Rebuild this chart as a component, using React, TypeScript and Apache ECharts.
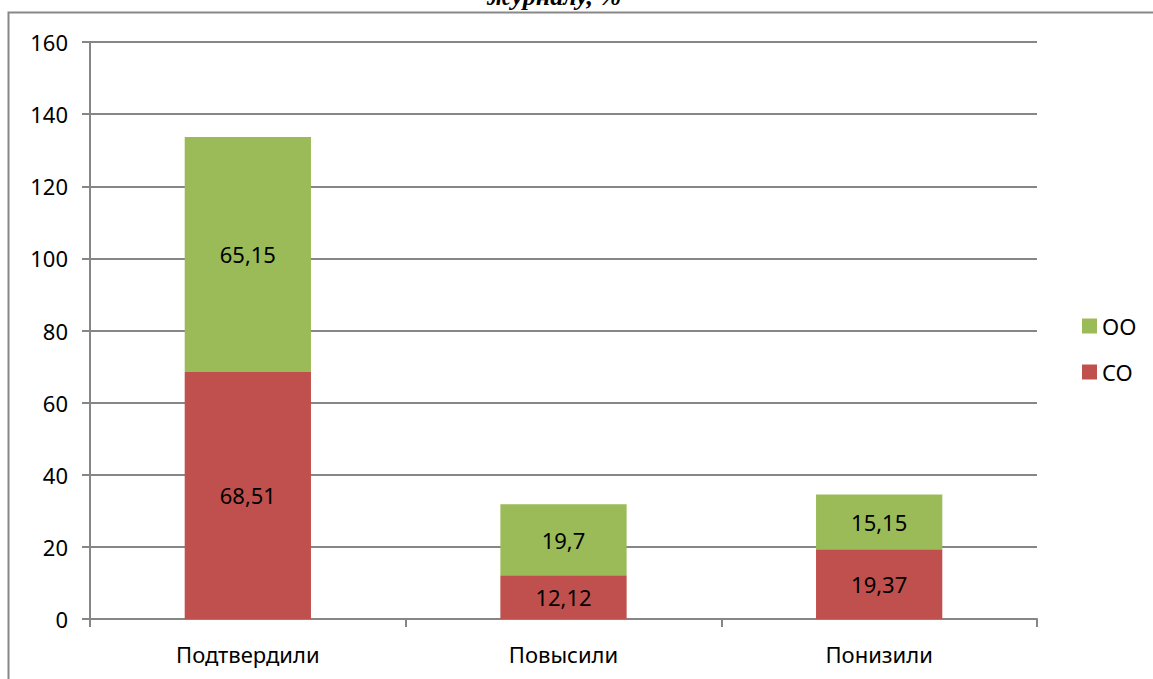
import React, { useEffect, useRef } from "react";
import * as echarts from "echarts";

const categories = ["Подтвердили", "Повысили", "Понизили"];
const seriesCO = [68.51, 12.12, 19.37];
const seriesOO = [65.15, 19.7, 15.15];
const labelsCO = ["68,51", "12,12", "19,37"];
const labelsOO = ["65,15", "19,7", "15,15"];
const titleText = "журналу, %";

const FONT = "'Noto Sans', 'Open Sans', sans-serif";

export default function App() {
  const ref = useRef<HTMLDivElement>(null);
  useEffect(() => {
    if (!ref.current) return;
    const chart = echarts.init(ref.current, null, { renderer: "svg" });
    const axisColor = "#868686";
    chart.setOption({
      animation: false,
      backgroundColor: "#ffffff",
      textStyle: { fontFamily: FONT },
      grid: { left: 90, right: 116, top: 42, bottom: 60, containLabel: false },
      legend: {
        orient: "vertical",
        left: 1077,
        top: 310,
        itemWidth: 15,
        itemHeight: 15,
        itemGap: 24,
        icon: "rect",
        data: ["OO", "CO"],
        textStyle: { fontSize: 22, color: "#000", fontFamily: FONT, padding: [0, 0, 0, 0] },
      },
      xAxis: {
        type: "category",
        data: categories,
        axisLine: { lineStyle: { color: axisColor, width: 2 } },
        axisTick: { show: true, length: 8, lineStyle: { color: axisColor, width: 2 } },
        axisLabel: { color: "#000", fontSize: 22, margin: 24, fontFamily: FONT },
      },
      yAxis: {
        type: "value",
        min: 0,
        max: 160,
        interval: 20,
        axisLine: { show: true, lineStyle: { color: axisColor, width: 2 } },
        axisTick: { show: true, length: 8, lineStyle: { color: axisColor, width: 2 } },
        splitLine: { lineStyle: { color: axisColor, width: 2 } },
        axisLabel: { color: "#000", fontSize: 22, margin: 22, fontFamily: FONT },
      },
      series: [
        {
          name: "CO",
          type: "bar",
          stack: "total",
          barWidth: "40%",
          itemStyle: { color: "#C0504D" },
          data: seriesCO,
          label: {
            show: true,
            position: "inside",
            color: "#000",
            fontSize: 22,
            fontFamily: FONT,
            formatter: (p: any) => labelsCO[p.dataIndex],
          },
        },
        {
          name: "OO",
          type: "bar",
          stack: "total",
          barWidth: "40%",
          itemStyle: { color: "#9BBB59" },
          data: seriesOO,
          label: {
            show: true,
            position: "inside",
            color: "#000",
            fontSize: 22,
            fontFamily: FONT,
            formatter: (p: any) => labelsOO[p.dataIndex],
          },
        },
      ],
      graphic: [
        {
          type: "polyline",
          shape: { points: [[8.5, 679], [8.5, 12.5], [1153, 12.5]] },
          style: { stroke: "#888888", lineWidth: 2, fill: "none" },
          silent: true,
        },
        {
          type: "text",
          x: 554,
          y: 9,
          style: {
            text: titleText,
            fontFamily: "'Liberation Serif', 'DejaVu Serif', serif",
            fontWeight: "bold",
            fontStyle: "italic",
            fontSize: 26,
            fill: "#000",
            textAlign: "center",
            textVerticalAlign: "bottom",
          },
          silent: true,
        },
      ],
    });
    return () => chart.dispose();
  }, []);
  return (
    <div
      ref={ref}
      style={{ position: "fixed", left: 0, top: 0, width: 1153, height: 679, background: "#fff" }}
    />
  );
}
